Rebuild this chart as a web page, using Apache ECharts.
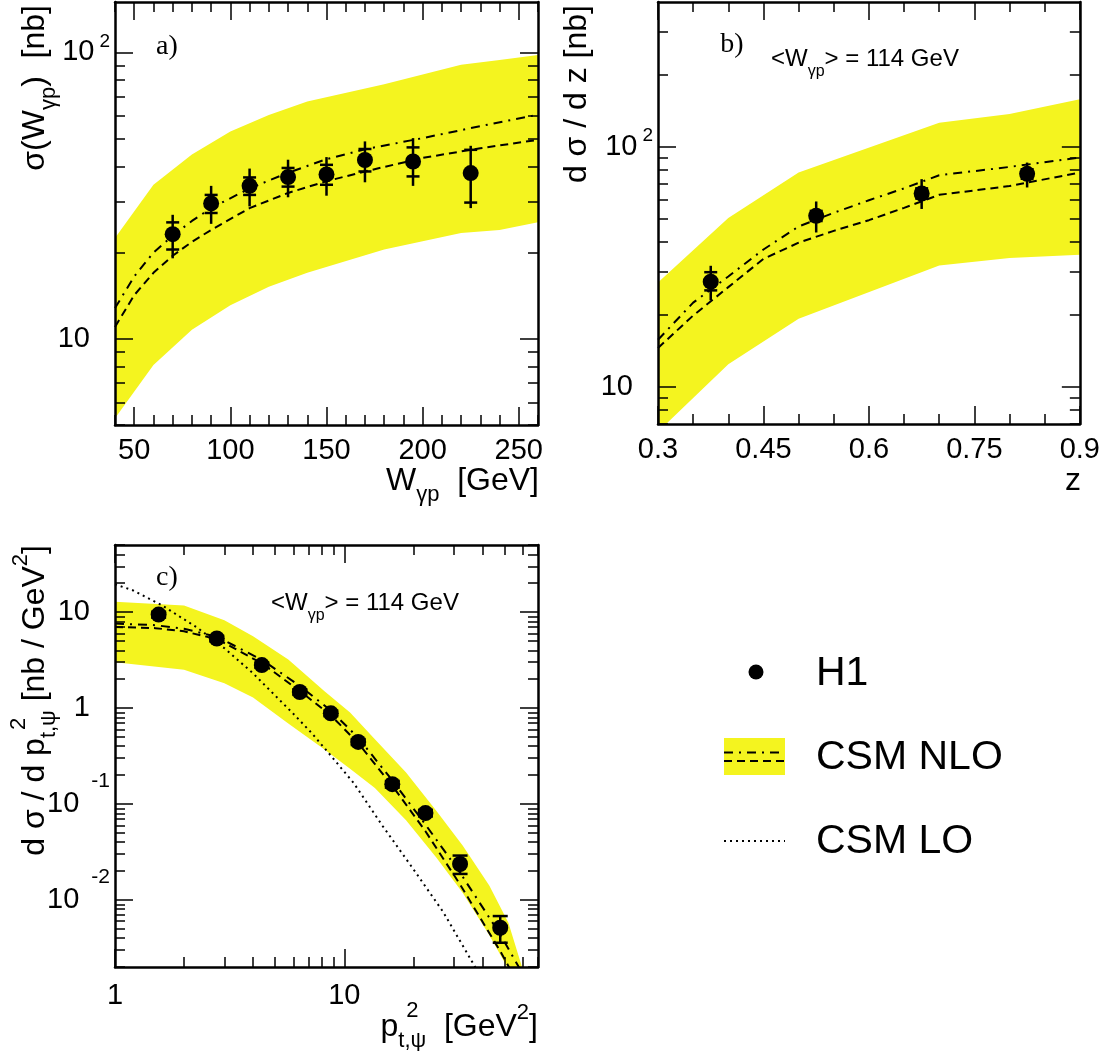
<!DOCTYPE html>
<html style="height: 100%">
<head>
	<meta charset="utf-8">
</head>
<body style="height: 100%; margin: 0; background: #fff">
<div id="container" style="width: 1103px; height: 1051px"></div>
<script type="text/javascript" src="https://cdn.jsdelivr.net/npm/echarts@6/dist/echarts.min.js"></script>
<script type="text/javascript">
    var FONT = "'Liberation Sans', Arial, Helvetica, sans-serif";
    var SERIF = "'Liberation Serif', 'Times New Roman', serif";
    var YELLOW = '#f4f41f';
    var DASHED = [8, 5];
    var DASHDOT = [9, 6, 2, 6];
    var DOTTED = [2, 4];
    var TICKFONT = 29;

    // ---- panel a: sigma(W) ----
    var aW = [70, 90, 110, 130, 150, 170, 195, 225];
    var aSigma = [23.2, 29.7, 34.2, 36.7, 37.5, 42.1, 41.6, 37.9];
    var aStatLo = [20.5, 27.5, 31.8, 34.0, 34.5, 38.4, 36.9, 29.9];
    var aStatHi = [25.5, 31.8, 36.6, 39.5, 40.5, 46.0, 46.6, 45.7];
    var aTotLo = [19.1, 25.2, 29.0, 31.2, 31.6, 35.2, 34.2, 28.6];
    var aTotHi = [27.1, 34.2, 39.3, 42.2, 43.1, 48.9, 50.2, 47.2];
    var aBandW = [40, 60, 80, 100, 120, 140, 180, 220, 240, 260];
    var aBandHi = [22.5, 34.5, 44.0, 53.0, 60.5, 67.4, 77.5, 90.6, 94.0, 98.0];
    var aBandLo = [5.28, 8.1, 10.75, 13.1, 15.2, 17.0, 20.5, 23.4, 24.0, 25.5];
    var aCurveW = [40, 50, 60, 70, 80, 90, 110, 130, 150, 170, 200, 230, 260];
    var aNloDashDot = [12.8, 16.5, 20.0, 22.9, 25.8, 28.6, 33.5, 38.0, 42.4, 45.9, 50.2, 55.3, 60.6];
    var aNloDashed = [11.0, 14.2, 17.0, 19.5, 21.8, 24.0, 28.6, 32.3, 35.5, 38.4, 42.8, 46.3, 49.5];
    var aXMajor = [50, 100, 150, 200, 250];
    var aXMinor = [40, 60, 70, 80, 90, 110, 120, 130, 140, 160, 170, 180, 190, 210, 220, 230, 240, 260];
    var aYMajor = [10, 100];
    var aYBase = ['10', '10'];
    var aYExp = ['', '2'];
    var aYMinor = [5, 6, 7, 8, 9, 20, 30, 40, 50, 60, 70, 80, 90];

    // ---- panel b: dsigma/dz ----
    var bZ = [0.375, 0.525, 0.675, 0.825];
    var bVal = [27.4, 51.5, 63.8, 77.0];
    var bStatLo = [25.2, 49.0, 60.8, 73.5];
    var bStatHi = [30.0, 54.0, 67.0, 80.5];
    var bTotLo = [22.9, 43.9, 55.0, 67.6];
    var bTotHi = [31.9, 59.1, 73.2, 85.8];
    var bBandZ = [0.3, 0.4, 0.5, 0.7, 0.8, 0.9];
    var bBandHi = [27.2, 50.4, 78.0, 125.8, 136.7, 157.4];
    var bBandLo = [6.5, 12.4, 19.2, 32.0, 34.4, 35.5];
    var bCurveZ = [0.3, 0.35, 0.4, 0.45, 0.5, 0.55, 0.6, 0.65, 0.7, 0.8, 0.9];
    var bNloDashDot = [15.7, 22.4, 28.8, 37.3, 46.5, 53.0, 59.8, 67.0, 76.0, 82.3, 90.0];
    var bNloDashed = [14.5, 19.8, 26.0, 34.1, 39.8, 44.6, 49.4, 55.6, 63.0, 68.5, 78.0];
    var bXMajor = [0.3, 0.45, 0.6, 0.75, 0.9];
    var bXLabels = ['0.3', '0.45', '0.6', '0.75', '0.9'];
    var bXMinor = [0.35, 0.4, 0.5, 0.55, 0.65, 0.7, 0.8, 0.85];
    var bYMajor = [10, 100];
    var bYBase = ['10', '10'];
    var bYExp = ['', '2'];
    var bYMinor = [7, 8, 9, 20, 30, 40, 50, 60, 70, 80, 90, 200, 300];

    // ---- panel c: dsigma/dpt2 ----
    var cPt2 = [1.55, 2.78, 4.37, 6.40, 8.74, 11.5, 16.2, 22.6, 32.0, 47.9];
    var cVal = [9.42, 5.30, 2.80, 1.47, 0.881, 0.443, 0.161, 0.0804, 0.0237, 0.00513];
    var cErrLo = [8.75, 4.95, 2.62, 1.37, 0.822, 0.411, 0.148, 0.074, 0.01866, 0.00358];
    var cErrHi = [10.1, 5.65, 2.98, 1.57, 0.94, 0.475, 0.174, 0.087, 0.0290, 0.00679];
    var cBandX = [1, 2, 3, 4, 5.7, 8.2, 10.6, 13.6, 18.6, 25.2, 32.9, 42.9, 52, 60, 70];
    var cBandHi = [12.8, 11.7, 8.2, 5.6, 3.2, 1.5, 0.9, 0.474, 0.213, 0.085, 0.0368, 0.0141, 0.0058, 0.0019, 0.0006];
    var cBandLo = [3.0, 2.5, 1.81, 1.29, 0.69, 0.37, 0.233, 0.147, 0.0678, 0.0277, 0.0118, 0.0043, 0.0019, 0.0011, 0.0004];
    var cNloX = [1, 1.5, 2, 2.8, 4.4, 6.4, 8.7, 11.5, 16.2, 22.6, 32, 48, 60];
    var cNloDashDot = [7.6, 7.3, 6.7, 5.5, 3.15, 1.7, 0.95, 0.49, 0.176, 0.0611, 0.0192, 0.00434, 0.0017];
    var cNloDashed = [7.0, 6.8, 6.3, 5.2, 2.9, 1.5, 0.85, 0.43, 0.155, 0.052, 0.0145, 0.0029, 0.0011];
    var cLoX = [1, 1.2, 1.6, 2.3, 3, 4, 6, 7.2, 8.5, 11, 14.7, 20, 27, 36, 42];
    var cLo = [19.5, 16.8, 11.8, 6.8, 4.2, 2.3, 0.87, 0.55, 0.345, 0.165, 0.059, 0.021, 0.0075, 0.0023, 0.0012];
    var cXMajor = [1, 10];
    var cXLabels = ['1', '10'];
    var cXMinor = [2, 3, 4, 5, 6, 7, 8, 9, 20, 30, 40, 50, 60, 70];
    var cYMajor = [0.01, 0.1, 1, 10];
    var cYBase = ['10', '10', '1', '10'];
    var cYExp = ['-2', '-1', '', ''];
    var cYMinor = [0.002, 0.003, 0.004, 0.005, 0.006, 0.007, 0.008, 0.009,
                   0.02, 0.03, 0.04, 0.05, 0.06, 0.07, 0.08, 0.09,
                   0.2, 0.3, 0.4, 0.5, 0.6, 0.7, 0.8, 0.9,
                   2, 3, 4, 5, 6, 7, 8, 9, 20, 30, 40, 50];

    function findTick(list, v) {
        for (var i = 0; i < list.length; i++) {
            if (Math.abs(list[i] - v) <= 1e-6 * Math.abs(list[i])) return i;
        }
        return -1;
    }

    function pairs(xs, ys) {
        return xs.map(function (x, i) { return [x, ys[i]]; });
    }

    var measure = document.createElement('canvas').getContext('2d');
    function textWidth(s, size) {
        measure.font = size + 'px ' + FONT;
        return measure.measureText(s).width;
    }

    var xAxes = [];
    var yAxes = [];

    // 4 axes per side pair: labelled major, minor, mirrored major, mirrored minor
    function addAxes(list, dim, grid, type, min, max, majors, minors, label) {
        var sides = dim === 'x' ? ['bottom', 'top'] : ['left', 'right'];
        var first = list.length;
        sides.forEach(function (pos, s) {
            [majors, minors].forEach(function (ticks, k) {
                list.push({
                    type: type,
                    logBase: 10,
                    gridIndex: grid,
                    position: pos,
                    min: min,
                    max: max,
                    z: 6,
                    axisLine: { show: k === 0, onZero: false, lineStyle: { color: '#000', width: 2.5 } },
                    axisTick: { show: true, inside: true, length: k === 0 ? 18 : 10,
                                customValues: ticks, lineStyle: { color: '#000', width: 1.5 } },
                    axisLabel: (s === 0 && k === 0) ? label : { show: false },
                    splitLine: { show: false },
                    axisPointer: { show: false }
                });
            });
        });
        return first;
    }

    function xLabel(ticks, texts, margin) {
        return {
            show: true, customValues: ticks, margin: margin,
            color: '#000', fontSize: TICKFONT, fontFamily: FONT,
            formatter: function (v) {
                var i = findTick(ticks, v);
                return i < 0 ? '' : texts[i];
            }
        };
    }

    function yLabel(ticks, base, exp, lineH, expSize, gap) {
        return {
            show: true, customValues: ticks, margin: 5,
            formatter: function (v) {
                var i = findTick(ticks, v);
                if (i < 0) return '';
                if (exp[i]) return '{b|' + base[i] + '}{g| }{s|' + exp[i] + '}';
                return '{b|' + base[i] + '}{sp| }';
            },
            rich: {
                b: { fontSize: TICKFONT, fontFamily: FONT, color: '#000', lineHeight: lineH },
                s: { fontSize: expSize, fontFamily: FONT, color: '#000', lineHeight: expSize, verticalAlign: 'top' },
                g: { width: gap },
                sp: { width: 20 }
            }
        };
    }

    var ax = addAxes(xAxes, 'x', 0, 'value', 40, 260, aXMajor, aXMinor,
        xLabel(aXMajor, aXMajor.map(String), 11));
    var ay = addAxes(yAxes, 'y', 0, 'log', 5, 150, aYMajor, aYMinor,
        yLabel(aYMajor, aYBase, aYExp, 40, 19, 5));
    var bx = addAxes(xAxes, 'x', 1, 'value', 0.3, 0.9, bXMajor, bXMinor,
        xLabel(bXMajor, bXLabels, 11));
    var by = addAxes(yAxes, 'y', 1, 'log', 7, 400, bYMajor, bYMinor,
        yLabel(bYMajor, bYBase, bYExp, 40, 19, 5));
    var cx = addAxes(xAxes, 'x', 2, 'log', 1, 70, cXMajor, cXMinor,
        xLabel(cXMajor, cXLabels, 14));
    var cy = addAxes(yAxes, 'y', 2, 'log', 0.002, 50, cYMajor, cYMinor,
        yLabel(cYMajor, cYBase, cYExp, 67, 21, 12));

    function bandSeries(xi, yi, xs, hi, lo) {
        return {
            type: 'custom', xAxisIndex: xi, yAxisIndex: yi, z: 1, clip: true, silent: true,
            data: [[xs[0], hi[0]]],
            renderItem: function (params, api) {
                var pts = [];
                for (var i = 0; i < xs.length; i++) pts.push(api.coord([xs[i], hi[i]]));
                for (var j = xs.length - 1; j >= 0; j--) pts.push(api.coord([xs[j], lo[j]]));
                return { type: 'polygon', shape: { points: pts }, style: { fill: YELLOW, stroke: null } };
            }
        };
    }

    function curveSeries(xi, yi, xs, ys, dash) {
        return {
            type: 'line', xAxisIndex: xi, yAxisIndex: yi, z: 3, silent: true,
            data: pairs(xs, ys), symbol: 'none', showSymbol: false, clip: true,
            lineStyle: { color: '#000', width: 2, type: dash }
        };
    }

    function errorSeries(xi, yi, xs, lo, hi, capLo, capHi, cap) {
        return {
            type: 'custom', xAxisIndex: xi, yAxisIndex: yi, z: 4, clip: true, silent: true,
            encode: { x: 0, y: [1, 2] },
            data: xs.map(function (x, i) { return [x, lo[i], hi[i], capLo[i], capHi[i]]; }),
            renderItem: function (params, api) {
                var x = api.value(0);
                var p1 = api.coord([x, api.value(1)]);
                var p2 = api.coord([x, api.value(2)]);
                var c1 = api.coord([x, api.value(3)]);
                var c2 = api.coord([x, api.value(4)]);
                var st = { stroke: '#000', lineWidth: 2.5 };
                return {
                    type: 'group',
                    children: [
                        { type: 'line', shape: { x1: p1[0], y1: p1[1], x2: p2[0], y2: p2[1] }, style: st },
                        { type: 'line', shape: { x1: c1[0] - cap, y1: c1[1], x2: c1[0] + cap, y2: c1[1] }, style: st },
                        { type: 'line', shape: { x1: c2[0] - cap, y1: c2[1], x2: c2[0] + cap, y2: c2[1] }, style: st }
                    ]
                };
            }
        };
    }

    function pointSeries(xi, yi, xs, ys) {
        return {
            type: 'scatter', xAxisIndex: xi, yAxisIndex: yi, z: 5, silent: true,
            data: pairs(xs, ys), symbol: 'circle', symbolSize: 16,
            itemStyle: { color: '#000', opacity: 1 }
        };
    }

    var series = [
        bandSeries(ax, ay, aBandW, aBandHi, aBandLo),
        curveSeries(ax, ay, aCurveW, aNloDashDot, DASHDOT),
        curveSeries(ax, ay, aCurveW, aNloDashed, DASHED),
        errorSeries(ax, ay, aW, aTotLo, aTotHi, aStatLo, aStatHi, 6.5),
        pointSeries(ax, ay, aW, aSigma),

        bandSeries(bx, by, bBandZ, bBandHi, bBandLo),
        curveSeries(bx, by, bCurveZ, bNloDashDot, DASHDOT),
        curveSeries(bx, by, bCurveZ, bNloDashed, DASHED),
        errorSeries(bx, by, bZ, bTotLo, bTotHi, bStatLo, bStatHi, 6.5),
        pointSeries(bx, by, bZ, bVal),

        bandSeries(cx, cy, cBandX, cBandHi, cBandLo),
        curveSeries(cx, cy, cLoX, cLo, DOTTED),
        curveSeries(cx, cy, cNloX, cNloDashDot, DASHDOT),
        curveSeries(cx, cy, cNloX, cNloDashed, DASHED),
        errorSeries(cx, cy, cPt2, cErrLo, cErrHi, cErrLo, cErrHi, 7.5),
        pointSeries(cx, cy, cPt2, cVal)
    ];

    // ---- texts ----
    var TITLE = 32, SUB = 22;
    var titleRich = {
        m: { fontSize: TITLE, fontFamily: FONT, color: '#000', lineHeight: 50 },
        s: { fontSize: SUB, fontFamily: FONT, color: '#000', lineHeight: SUB, verticalAlign: 'bottom' },
        u: { fontSize: SUB, fontFamily: FONT, color: '#000', lineHeight: SUB, verticalAlign: 'top' }
    };
    var noteRich = {
        m: { fontSize: 24, fontFamily: FONT, color: '#000', lineHeight: 42 },
        s: { fontSize: 16, fontFamily: FONT, color: '#000', lineHeight: 16, verticalAlign: 'bottom' }
    };

    function txt(x, y, text, opt) {
        var style = { text: text, x: 0, y: 0, fill: '#000', fontFamily: FONT, fontSize: TITLE,
                      align: 'left', verticalAlign: 'middle' };
        for (var k in opt.style || {}) style[k] = opt.style[k];
        return { type: 'text', x: x, y: y, rotation: opt.rotation || 0, z: 20, silent: true, style: style };
    }

    // p_t,psi superscript placement (stacked over the subscript)
    var cXRight = 538;
    var cXpEnd = cXRight - textWidth(']', TITLE) - textWidth('2', SUB) - textWidth('  [GeV', TITLE) - textWidth('t,ψ', SUB);
    var cYTop = 545;
    var cYpEnd = cYTop + textWidth(']', TITLE) + textWidth('2', SUB) + textWidth(' [nb / GeV', TITLE) + textWidth('t,ψ', SUB);

    var graphic = [
        txt(167, 47, 'a)', { style: { fontFamily: SERIF, fontSize: 28, align: 'center' } }),
        txt(732, 45, 'b)', { style: { fontFamily: SERIF, fontSize: 28, align: 'center' } }),
        txt(167, 578, 'c)', { style: { fontFamily: SERIF, fontSize: 28, align: 'center' } }),
        txt(771, 59, '{m|<W}{s|γp}{m|> = 114 GeV}', { style: { rich: noteRich } }),
        txt(271, 603, '{m|<W}{s|γp}{m|> = 114 GeV}', { style: { rich: noteRich } }),

        txt(539, 481, '{m|W}{s|γp}{m|  [GeV]}', { style: { align: 'right', rich: titleRich } }),
        txt(1081, 481, 'z', { style: { align: 'right' } }),
        txt(cXRight, 1027, '{m|p}{s|t,ψ}{m|  [GeV}{u|2}{m|]}', {
            style: { align: 'right', rich: titleRich }
        }),
        txt(cXpEnd + 8, 1011, '2', { style: { fontSize: SUB } }),

        txt(35, 5, '{m|σ(W}{s|γp}{m|)  [nb]}', { rotation: Math.PI / 2, style: { align: 'right', rich: titleRich } }),
        txt(577, 5, 'd σ / d z [nb]', { rotation: Math.PI / 2, style: { align: 'right' } }),
        txt(35, cYTop, '{m|d σ / d p}{s|t,ψ}{m| [nb / GeV}{u|2}{m|]}', {
            rotation: Math.PI / 2, style: { align: 'right', rich: titleRich }
        }),
        txt(19, cYpEnd - 8, '2', { rotation: Math.PI / 2, style: { fontSize: SUB, align: 'left' } }),

        // legend
        { type: 'circle', z: 20, silent: true, shape: { cx: 756, cy: 672, r: 7.5 }, style: { fill: '#000' } },
        { type: 'rect', z: 20, silent: true, shape: { x: 724, y: 738, width: 61, height: 37 }, style: { fill: YELLOW } },
        { type: 'line', z: 21, silent: true, shape: { x1: 724, y1: 752.5, x2: 785, y2: 752.5 },
          style: { stroke: '#000', lineWidth: 2, lineDash: DASHDOT } },
        { type: 'line', z: 21, silent: true, shape: { x1: 724, y1: 761, x2: 785, y2: 761 },
          style: { stroke: '#000', lineWidth: 2, lineDash: DASHED } },
        { type: 'line', z: 21, silent: true, shape: { x1: 724, y1: 841, x2: 785, y2: 841 },
          style: { stroke: '#000', lineWidth: 2, lineDash: DOTTED } },
        txt(816, 674, 'H1', { style: { fontSize: 41 } }),
        txt(816, 758, 'CSM NLO', { style: { fontSize: 41 } }),
        txt(816, 842, 'CSM LO', { style: { fontSize: 41 } })
    ];

    var dom = document.getElementById('container');
    var myChart = echarts.init(dom);
    var option = {
        animation: false,
        backgroundColor: '#ffffff',
        grid: [
            { left: 115, top: 2, width: 423, height: 423 },
            { left: 658, top: 2, width: 422, height: 422 },
            { left: 115, top: 545, width: 423, height: 422 }
        ],
        xAxis: xAxes,
        yAxis: yAxes,
        series: series,
        graphic: graphic
    };
    myChart.setOption(option, true);
</script>
</body>
</html>
